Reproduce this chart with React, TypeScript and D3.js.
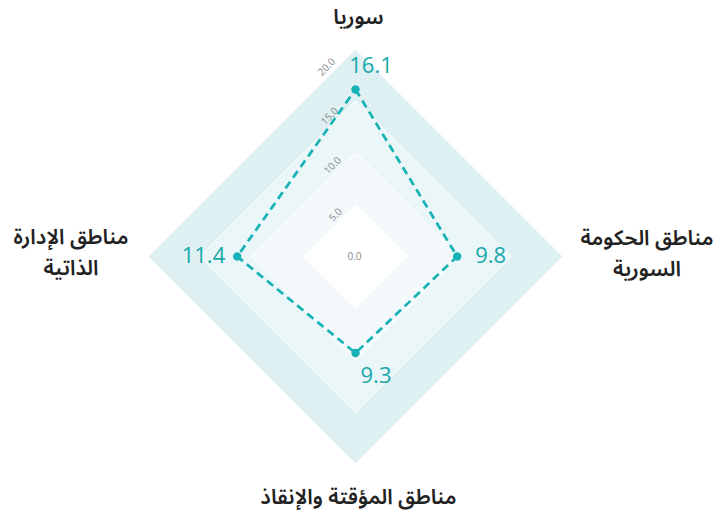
import React from "react";
import * as d3 from "d3";

const categories = ["سوريا", "مناطق الحكومة السورية", "مناطق المؤقتة والإنقاذ", "مناطق الإدارة الذاتية"];
const categoryLines = [["سوريا"], ["مناطق الحكومة", "السورية"], ["مناطق المؤقتة والإنقاذ"], ["مناطق الإدارة", "الذاتية"]];
const values = [16.1, 9.8, 9.3, 11.4];
const ticks = [0, 5, 10, 15, 20];
const bandColors = ["#ffffff", "#f3f9fb", "#eaf6f8", "#dff0f3"];

const W = 721, H = 513;
const cx = 355.5, cy = 256.5;
const TEAL = "#17b2b5";
const LABEL_TEAL = "#16a8ab";
const FONT = "'Noto Sans Arabic', 'Noto Sans', 'DejaVu Sans', sans-serif";

export default function App() {
  const r = d3.scaleLinear().domain([0, 20]).range([0, 207.5]);
  const angle = (i: number) => (i * 2 * Math.PI) / categories.length - Math.PI / 2;
  const pt = (i: number, v: number): [number, number] => [cx + r(v) * Math.cos(angle(i)), cy + r(v) * Math.sin(angle(i))];
  const line = d3.line<[number, number]>().curve(d3.curveLinearClosed);
  const ring = (v: number) => line(categories.map((_, i) => pt(i, v))) as string;

  const pts = values.map((v, i) => pt(i, v));

  const valOff = [
    { dx: 15.5, dy: -16, anchor: "middle" },
    { dx: 18, dy: 6, anchor: "start" },
    { dx: 20.5, dy: 30, anchor: "middle" },
    { dx: -12, dy: 6, anchor: "end" },
  ];

  const titlePos = [
    { x: cx + 3, y: 24 },
    { x: 647, y: 245 },
    { x: cx + 3, y: 504 },
    { x: 71, y: 244 },
  ];

  return (
    <svg width={W} height={H} style={{ position: "absolute", left: 0, top: 0, background: "#fff" }}>
      {ticks
        .slice(1)
        .map((t, k) => ({ t, k }))
        .reverse()
        .map(({ t, k }) => (
          <path key={t} d={ring(t)} fill={bandColors[k]} stroke="#ffffff" strokeWidth={1} />
        ))}
      {ticks.map((t) =>
        t === 0 ? (
          <text key={t} x={cx - 1} y={cy + 3.5} fontSize={10} fill="#8a8a8a" textAnchor="middle" fontFamily="'Open Sans', sans-serif">
            {t.toFixed(1)}
          </text>
        ) : (
          <text
            key={t}
            transform={`translate(${cx - (16.5 + 0.6 * t)},${cy - r(t) + 8 + 0.52 * t}) rotate(-45)`}
            fontSize={10}
            fill="#8a8a8a"
            textAnchor="middle"
            dominantBaseline="middle"
            fontFamily="'Open Sans', sans-serif"
          >
            {t.toFixed(1)}
          </text>
        )
      )}
      <path d={line(pts) as string} fill="none" stroke={TEAL} strokeWidth={2.7} strokeDasharray="8,5" />
      {pts.map((p, i) => (
        <circle key={i} cx={p[0]} cy={p[1]} r={4.2} fill={TEAL} />
      ))}
      {pts.map((p, i) => (
        <text
          key={"v" + i}
          x={p[0] + valOff[i].dx}
          y={p[1] + valOff[i].dy}
          textAnchor={valOff[i].anchor as any}
          fontSize={22}
          fill={LABEL_TEAL}
          fontFamily="'Open Sans', 'Noto Sans', sans-serif"
        >
          {values[i].toFixed(1)}
        </text>
      ))}
      {categoryLines.map((lines, i) =>
        lines.map((l, j) => (
          <text
            key={"c" + i + "-" + j}
            x={titlePos[i].x}
            y={titlePos[i].y + j * 31}
            textAnchor="middle"
            fontSize={21}
            fontWeight={600}
            fill="#222"
            fontFamily={FONT}
            direction="rtl"
          >
            {l}
          </text>
        ))
      )}
    </svg>
  );
}
